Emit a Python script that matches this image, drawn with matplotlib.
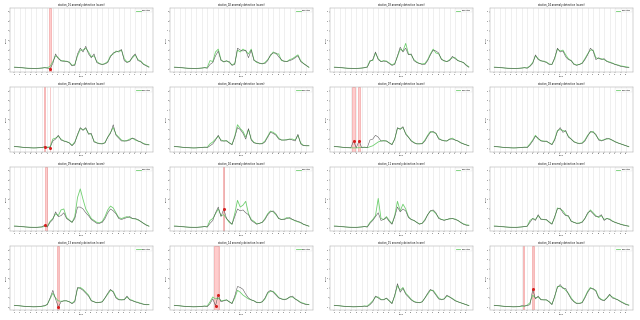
import numpy as np
import matplotlib
matplotlib.use("Agg")
import matplotlib.pyplot as plt

# index axis for every panel (50 samples)
t = np.arange(50)
tick_pos = list(range(0, 50, 2))
tick_lab = [str(v) for v in tick_pos]

titles = ["station_%02d anomaly detection (score)" % (k + 1) for k in range(16)]

flat_b = [0.2, 0.2, 0.18, 0.15, 0.12, 0.1, 0.08, 0.07, 0.08, 0.1, 0.12, 0.15]
flat_g = [0.22, 0.2, 0.17, 0.14, 0.12, 0.1, 0.09, 0.08, 0.08, 0.1, 0.12, 0.16]

actual = [
    flat_b + [0.12, 0.05, 0.6, 1.6, 1.1, 0.9, 0.8, 0.85, 0.7, 0.35, 0.4, 1.6, 2.2, 1.8, 2.4, 1.6, 1.2, 1.6, 0.7, 0.55,
              0.5, 0.55, 0.7, 1.3, 1.7, 1.8, 1.9, 2.05, 0.9, 0.7, 0.8, 1.3, 1.6, 0.9, 0.8, 0.5, 0.35, 0.2],
    flat_b + [0.1, 0.5, 0.7, 1.4, 1.9, 0.9, 0.8, 0.85, 0.8, 0.4, 0.5, 2.2, 2.0, 1.9, 2.0, 1.2, 2.0, 0.9, 0.8, 0.6,
              0.6, 0.6, 0.9, 1.5, 1.7, 1.7, 1.3, 1.0, 0.8, 0.8, 0.9, 1.0, 1.2, 1.4, 0.8, 0.6, 0.4, 0.2],
    flat_b + [0.2, 0.8, 1.0, 1.8, 1.0, 0.8, 0.85, 0.8, 0.6, 0.4, 0.5, 1.4, 2.3, 1.8, 2.2, 1.5, 1.6, 0.9, 0.7, 0.6,
              0.5, 0.5, 0.9, 1.5, 2.0, 1.9, 1.7, 1.0, 0.9, 0.8, 0.9, 1.35, 1.1, 0.9, 0.8, 0.7, 0.4, 0.2],
    flat_b + [0.1, 0.3, 0.6, 1.5, 1.0, 0.9, 0.8, 0.7, 0.5, 0.5, 1.2, 2.2, 1.8, 1.9, 1.3, 1.0, 0.9, 0.5, 0.4, 0.5,
              0.6, 1.0, 1.5, 2.2, 1.9, 1.0, 1.2, 1.0, 1.1, 0.8, 0.7, 0.6, 0.5, 0.4, 0.3, 0.25, 0.2, 0.2],
    [0.2, 0.2, 0.18, 0.15, 0.12, 0.1, 0.08, 0.07, 0.08, 0.1, 0.12, 0.2] +
    [0.1, 0.1, 0.8, 1.0, 1.4, 0.9, 0.8, 0.7, 0.6, 0.3, 0.6, 1.5, 2.2, 1.9, 2.2, 1.5, 1.6, 0.7, 0.6, 0.5,
     0.5, 0.6, 1.2, 1.6, 2.5, 1.4, 1.1, 0.8, 0.8, 0.8, 0.9, 1.1, 1.0, 0.8, 0.7, 0.5, 0.4, 0.4],
    flat_b + [0.1, 0.3, 0.5, 0.9, 1.4, 0.8, 0.8, 0.8, 0.6, 0.4, 1.2, 2.2, 2.0, 1.6, 1.0, 2.1, 0.9, 0.6, 0.55, 0.5,
              0.5, 0.7, 1.2, 1.7, 1.6, 1.4, 1.0, 0.9, 0.9, 0.9, 1.0, 0.9, 0.8, 1.5, 0.5, 0.3, 0.3, 0.3],
    [0.2, 0.2, 0.18, 0.15, 0.12, 0.1, 0.08, 0.8, 0.1, 0.8, 0.1, 0.1] +
    [0.1, 0.9, 1.0, 1.4, 1.2, 0.8, 0.8, 0.8, 0.6, 0.4, 1.0, 2.2, 2.0, 2.3, 1.5, 1.2, 0.8, 0.6, 0.5, 0.5,
     0.5, 0.8, 1.3, 1.7, 1.8, 1.6, 1.0, 0.9, 0.8, 0.8, 1.0, 1.0, 0.9, 0.8, 0.6, 0.5, 0.4, 0.3],
    flat_b + [0.1, 0.4, 0.8, 1.3, 1.1, 0.8, 0.75, 0.8, 0.6, 0.4, 0.9, 1.8, 2.2, 1.7, 1.9, 1.2, 1.0, 0.7, 0.6, 0.5,
              0.55, 0.8, 1.3, 1.8, 1.7, 1.5, 0.9, 0.8, 0.9, 1.1, 1.0, 0.9, 0.7, 0.6, 0.5, 0.4, 0.3, 0.2],
    [0.2, 0.2, 0.18, 0.15, 0.12, 0.1, 0.08, 0.07, 0.08, 0.1, 0.12, 0.3] +
    [0.1, 0.6, 0.9, 1.7, 1.2, 1.3, 1.6, 1.0, 0.8, 0.6, 1.0, 2.2, 2.2, 2.0, 1.6, 1.3, 0.9, 0.7, 0.5, 0.5,
     0.6, 1.0, 1.6, 2.0, 1.8, 1.5, 1.0, 0.9, 1.0, 1.1, 1.2, 1.0, 1.0, 0.9, 0.7, 0.5, 0.3, 0.2],
    flat_b + [0.1, 0.5, 0.8, 1.6, 2.2, 1.2, 2.0, 1.0, 0.7, 0.4, 1.2, 2.0, 1.8, 1.9, 1.6, 1.4, 0.8, 0.6, 0.4, 0.5,
              0.6, 0.9, 1.4, 1.7, 1.8, 1.5, 1.0, 0.9, 0.9, 1.0, 1.1, 0.9, 0.8, 0.7, 0.6, 0.4, 0.3, 0.2],
    flat_b + [0.1, 0.5, 0.8, 1.2, 1.6, 0.8, 0.9, 1.1, 0.7, 0.4, 1.2, 2.2, 1.7, 2.0, 1.8, 1.1, 0.9, 0.8, 0.6, 0.4,
              0.5, 0.8, 1.4, 1.8, 1.9, 1.6, 1.0, 0.9, 0.8, 0.9, 1.0, 1.0, 0.9, 0.8, 0.6, 0.4, 0.3, 0.3],
    flat_b + [0.2, 0.6, 1.0, 0.8, 1.4, 0.9, 0.9, 0.9, 0.6, 0.4, 1.2, 2.0, 2.1, 1.6, 1.3, 1.3, 0.7, 0.6, 0.5, 0.5,
              0.6, 1.0, 1.6, 1.8, 1.5, 1.2, 1.2, 1.4, 0.8, 1.0, 0.9, 0.7, 0.6, 0.5, 0.4, 0.3, 0.25, 0.2],
    [0.2, 0.2, 0.18, 0.15, 0.12, 0.1, 0.08, 0.07, 0.08, 0.1, 0.15, 0.2] +
    [0.3, 1.0, 1.8, 0.9, 0.05, 0.6, 0.7, 0.7, 0.6, 0.4, 0.6, 2.1, 2.0, 1.8, 1.5, 1.2, 0.7, 0.6, 0.5, 0.5,
     0.6, 1.0, 1.5, 1.9, 1.6, 1.0, 0.8, 0.8, 0.8, 1.2, 0.8, 0.7, 0.6, 0.5, 0.4, 0.35, 0.3, 0.3],
    flat_b + [0.1, 0.4, 0.9, 0.2, 1.3, 0.6, 0.7, 0.8, 0.6, 0.4, 1.2, 2.2, 2.1, 1.9, 1.4, 1.0, 0.8, 0.7, 0.5, 0.5,
              0.6, 1.0, 1.6, 1.8, 1.6, 1.3, 1.0, 0.9, 0.8, 0.9, 1.1, 1.2, 0.9, 0.7, 0.5, 0.4, 0.3, 0.3],
    flat_b + [0.1, 0.3, 0.6, 1.2, 1.0, 0.8, 0.8, 1.0, 0.7, 0.4, 1.3, 2.5, 1.6, 2.0, 1.4, 1.1, 0.8, 0.6, 0.5, 0.5,
              0.6, 1.0, 1.5, 1.9, 1.7, 1.3, 0.9, 0.8, 0.9, 1.3, 1.1, 0.9, 0.7, 0.6, 0.5, 0.4, 0.3, 0.2],
    [0.2, 0.2, 0.18, 0.15, 0.12, 0.1, 0.08, 0.07, 0.08, 0.1, 0.2, 0.15] +
    [0.2, 0.3, 1.9, 0.9, 1.2, 0.8, 0.8, 0.8, 0.6, 0.3, 1.2, 2.1, 2.4, 2.0, 2.0, 1.4, 0.9, 0.6, 0.4, 0.4,
     0.5, 1.0, 1.6, 2.0, 2.0, 1.7, 1.0, 0.8, 0.7, 1.0, 1.4, 1.0, 0.9, 0.8, 0.6, 0.45, 0.3, 0.25],
]

predicted = [
    flat_g + [0.15, 0.3, 0.8, 1.4, 1.2, 0.85, 0.9, 0.8, 0.75, 0.4, 0.5, 1.4, 2.0, 2.0, 2.2, 1.8, 1.3, 1.4, 0.8, 0.6,
              0.5, 0.6, 0.8, 1.4, 1.6, 1.9, 1.8, 2.0, 1.1, 0.75, 0.85, 1.2, 1.5, 1.0, 0.85, 0.55, 0.4, 0.25],
    flat_g + [0.2, 0.9, 0.8, 1.8, 2.1, 1.0, 0.75, 0.9, 0.7, 0.45, 0.6, 2.0, 1.8, 2.1, 1.9, 1.6, 2.1, 1.0, 0.7, 0.65,
              0.55, 0.7, 1.0, 1.4, 1.8, 1.6, 1.6, 0.9, 0.85, 0.8, 1.0, 1.1, 1.3, 1.5, 0.9, 0.6, 0.4, 0.2],
    flat_g + [0.25, 0.9, 0.9, 1.7, 1.1, 0.8, 0.9, 0.85, 0.65, 0.45, 0.6, 1.3, 2.1, 1.9, 2.7, 1.6, 1.5, 1.0, 0.75, 0.6,
              0.55, 0.6, 1.0, 1.6, 2.1, 1.7, 1.6, 1.1, 0.85, 0.8, 1.0, 1.2, 1.2, 0.9, 0.8, 0.7, 0.45, 0.25],
    flat_g + [0.15, 0.35, 0.7, 1.4, 1.1, 0.85, 0.85, 0.75, 0.55, 0.5, 1.1, 2.1, 1.9, 2.0, 1.5, 1.1, 0.9, 0.55, 0.45, 0.5,
              0.65, 1.1, 1.6, 2.0, 2.0, 1.2, 1.1, 1.1, 1.0, 0.85, 0.75, 0.65, 0.5, 0.45, 0.35, 0.3, 0.25, 0.2],
    flat_g + [0.15, 0.2, 1.0, 1.1, 1.3, 1.0, 0.8, 0.75, 0.6, 0.35, 0.7, 1.4, 2.1, 2.0, 2.1, 1.6, 1.5, 0.8, 0.6, 0.55,
              0.5, 0.65, 1.2, 1.7, 2.2, 1.5, 1.2, 0.9, 0.8, 0.85, 1.0, 1.1, 0.9, 0.8, 0.7, 0.55, 0.45, 0.4],
    flat_g + [0.15, 0.5, 0.7, 1.0, 1.3, 0.9, 0.8, 0.85, 0.6, 0.45, 1.3, 2.5, 2.1, 1.8, 1.2, 2.0, 1.0, 0.65, 0.55, 0.5,
              0.55, 0.8, 1.3, 1.8, 1.7, 1.5, 1.1, 0.9, 0.9, 0.95, 1.0, 1.0, 0.9, 1.4, 0.6, 0.35, 0.3, 0.3],
    flat_g + [0.1, 0.2, 0.3, 0.5, 0.7, 0.8, 0.85, 0.8, 0.6, 0.45, 1.0, 2.1, 2.1, 2.2, 1.6, 1.2, 0.85, 0.65, 0.5, 0.5,
              0.55, 0.9, 1.4, 1.8, 1.7, 1.6, 1.1, 0.9, 0.85, 0.8, 1.0, 1.1, 0.9, 0.8, 0.65, 0.5, 0.4, 0.3],
    flat_g + [0.15, 0.5, 0.9, 1.4, 1.0, 0.85, 0.8, 0.75, 0.6, 0.45, 1.0, 1.9, 2.0, 1.9, 1.8, 1.3, 1.0, 0.75, 0.6, 0.55,
              0.6, 0.9, 1.4, 1.7, 1.8, 1.4, 1.0, 0.85, 0.95, 1.0, 1.05, 0.85, 0.75, 0.6, 0.5, 0.4, 0.3, 0.2],
    flat_g + [0.2, 0.7, 1.0, 1.5, 1.3, 1.9, 2.0, 1.1, 0.85, 0.6, 1.2, 3.2, 4.1, 3.0, 2.0, 1.5, 1.0, 0.8, 0.6, 0.55,
              0.7, 1.2, 1.9, 2.3, 2.1, 1.6, 1.1, 1.0, 1.1, 1.2, 1.1, 1.0, 0.95, 0.85, 0.7, 0.5, 0.35, 0.2],
    flat_g + [0.15, 0.8, 1.0, 1.5, 2.0, 1.3, 1.4, 1.0, 0.6, 0.4, 1.5, 2.9, 2.2, 2.4, 2.8, 1.5, 0.9, 0.7, 0.45, 0.5,
              0.6, 1.0, 1.5, 1.8, 1.7, 1.4, 1.0, 0.9, 0.95, 1.1, 1.0, 0.9, 0.75, 0.65, 0.55, 0.4, 0.3, 0.2],
    flat_g + [0.15, 0.6, 0.9, 1.3, 3.1, 1.0, 0.9, 1.2, 0.8, 0.45, 1.3, 2.8, 1.8, 2.5, 2.0, 1.2, 0.9, 0.8, 0.6, 0.45,
              0.5, 0.9, 1.4, 1.8, 1.8, 1.5, 1.1, 0.9, 0.85, 0.9, 0.95, 1.0, 0.95, 0.8, 0.6, 0.45, 0.35, 0.3],
    flat_g + [0.2, 0.8, 1.0, 0.9, 1.3, 0.95, 0.9, 0.85, 0.65, 0.45, 1.1, 2.1, 2.0, 1.8, 1.4, 1.2, 0.75, 0.6, 0.5, 0.55,
              0.65, 1.0, 1.5, 1.9, 1.6, 1.3, 1.1, 1.3, 0.9, 1.0, 0.95, 0.75, 0.6, 0.5, 0.4, 0.35, 0.25, 0.2],
    flat_g + [0.35, 0.9, 1.5, 1.0, 0.7, 0.65, 0.7, 0.7, 0.6, 0.45, 0.7, 2.0, 2.1, 1.9, 1.6, 1.3, 0.75, 0.6, 0.5, 0.55,
              0.6, 1.0, 1.4, 1.8, 1.7, 1.1, 0.85, 0.8, 0.85, 1.1, 0.85, 0.75, 0.6, 0.55, 0.45, 0.35, 0.3, 0.3],
    flat_g + [0.15, 0.6, 1.1, 0.9, 1.0, 0.7, 0.75, 0.8, 0.6, 0.45, 1.0, 1.8, 1.6, 1.3, 1.1, 0.9, 0.8, 0.7, 0.55, 0.5,
              0.6, 0.9, 1.5, 1.7, 1.7, 1.4, 1.05, 0.9, 0.85, 0.9, 1.1, 1.1, 0.9, 0.75, 0.55, 0.45, 0.35, 0.3],
    flat_g + [0.15, 0.4, 0.7, 1.1, 1.1, 0.85, 0.85, 0.95, 0.7, 0.45, 1.2, 2.3, 1.8, 2.1, 1.5, 1.2, 0.85, 0.65, 0.55, 0.5,
              0.6, 1.0, 1.4, 1.8, 1.8, 1.4, 1.0, 0.85, 0.9, 1.2, 1.1, 0.95, 0.75, 0.6, 0.5, 0.4, 0.3, 0.2],
    flat_g + [0.25, 0.5, 1.3, 1.0, 1.1, 0.85, 0.8, 0.8, 0.6, 0.35, 1.1, 2.2, 2.2, 2.1, 1.8, 1.5, 1.0, 0.65, 0.45, 0.45,
              0.55, 1.1, 1.7, 2.1, 1.9, 1.8, 1.1, 0.85, 0.75, 1.0, 1.3, 1.1, 0.95, 0.8, 0.65, 0.5, 0.35, 0.25],
]

# anomaly windows (start, end) and flagged sample indices per panel
spans = {0: [(12.6, 13.5)], 4: [(10.9, 11.1), (12.9, 13.1)], 6: [(6.6, 7.5), (8.6, 9.5)],
         8: [(11.2, 12.0)], 9: [(17.9, 18.1)], 12: [(15.6, 16.4)], 13: [(14.3, 16.3)],
         15: [(10.5, 10.7), (13.6, 14.4)]}
flags = {0: [13], 4: [11, 13], 6: [7, 9], 8: [11], 9: [18], 12: [16], 13: [15, 16], 15: [14]}

fig, axes = plt.subplots(4, 4, figsize=(6.4, 3.2), dpi=100)
fig.subplots_adjust(left=0.016, right=0.989, top=0.975, bottom=0.03, wspace=0.12, hspace=0.24)

for k, ax in enumerate(axes.flat):
    ax.plot(t, predicted[k], color="#6fcf6f", lw=0.6, label="predicted")
    ax.plot(t, actual[k], color="#4a4a4a", lw=0.35)
    for a, b in spans.get(k, []):
        ax.axvspan(a, b, color="#ff9a9a", alpha=0.5, lw=0.4, ec="#e04848")
    for i in flags.get(k, []):
        ax.plot(t[i], actual[k][i], "o", color="#d62020", ms=1.2)
    ax.set_xlim(-1.5, 50.5)
    ax.set_ylim(-0.3, 6.4)
    ax.set_yticks(range(7))
    ax.set_xticks(tick_pos)
    ax.set_xticklabels(tick_lab)
    ax.tick_params(labelsize=1.2, length=0.8, width=0.2, pad=0.5)
    ax.grid(axis="x", color="#e4e4e4", lw=0.4)
    ax.set_axisbelow(True)
    for s in ax.spines.values():
        s.set_linewidth(0.3)
        s.set_color("#999999")
    ax.set_title(titles[k], fontsize=1.8, pad=1.5)
    ax.set_xlabel("time", fontsize=1.5, labelpad=0.5)
    ax.set_ylabel("value", fontsize=1.5, labelpad=0.5)
    leg = ax.legend(loc="upper right", fontsize=1.4, handlelength=2.5, borderpad=0.5, frameon=True)
    leg.get_frame().set_linewidth(0.2)

fig.savefig("out.png", dpi=100)
